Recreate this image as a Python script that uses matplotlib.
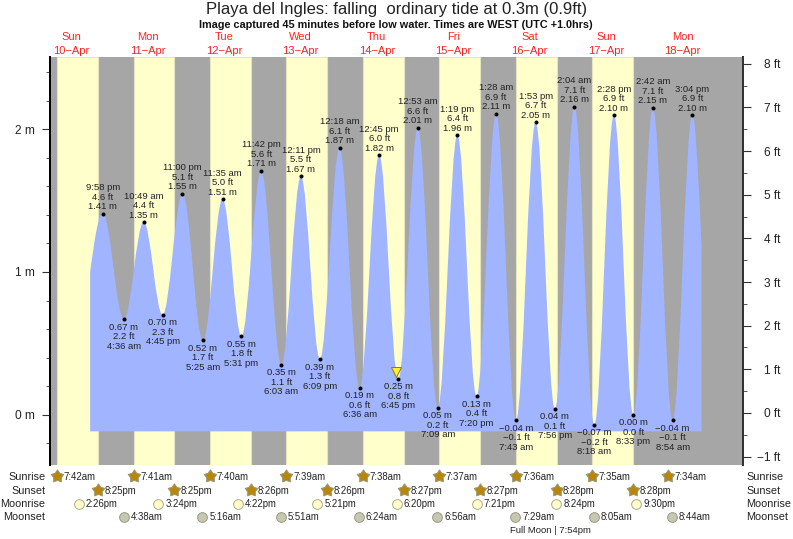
import matplotlib
matplotlib.use("Agg")
import matplotlib.pyplot as plt
from matplotlib.path import Path
from matplotlib.patches import PathPatch

plt.rcParams["font.family"] = ["Liberation Sans", "DejaVu Sans"]

W, H = 793, 539

# tide turning points
tide_days = [10, 11, 11, 11, 11, 12, 12, 12, 12, 13, 13, 13, 14, 14, 14, 14,
             15, 15, 15, 15, 16, 16, 16, 16, 17, 17, 17, 17, 18, 18, 18]
tide_times = ["9:58 pm", "4:36 am", "10:49 am", "4:45 pm", "11:00 pm", "5:25 am", "11:35 am", "5:31 pm",
              "11:42 pm", "6:03 am", "12:11 pm", "6:09 pm", "12:18 am", "6:36 am", "12:45 pm", "6:45 pm",
              "12:53 am", "7:09 am", "1:19 pm", "7:20 pm", "1:28 am", "7:43 am", "1:53 pm", "7:56 pm",
              "2:04 am", "8:18 am", "2:28 pm", "8:33 pm", "2:42 am", "8:54 am", "3:04 pm"]
tide_m = [1.41, 0.67, 1.35, 0.70, 1.55, 0.52, 1.51, 0.55, 1.71, 0.35, 1.67, 0.39, 1.87, 0.19, 1.82, 0.25,
          2.01, 0.05, 1.96, 0.13, 2.11, -0.04, 2.05, 0.04, 2.16, -0.07, 2.10, 0.00, 2.15, -0.04, 2.10]
tide_ft = [4.6, 2.2, 4.4, 2.3, 5.1, 1.7, 5.0, 1.8, 5.6, 1.1, 5.5, 1.3, 6.1, 0.6, 6.0, 0.8,
           6.6, 0.2, 6.4, 0.4, 6.9, -0.1, 6.7, 0.1, 7.1, -0.2, 6.9, 0.0, 7.1, -0.1, 6.9]

# where the drawn curve starts and stops (hours since 10 Apr 00:00, metres)
curve_start = (18.0, 1.00)
curve_end = (210.0, 1.17)
fill_bottom = -0.117
now_time = (14, "6:00 pm")
now_level = 0.30

sunrise = ["7:42am", "7:41am", "7:40am", "7:39am", "7:38am", "7:37am", "7:36am", "7:35am", "7:34am"]
sunset = ["8:25pm", "8:25pm", "8:26pm", "8:26pm", "8:27pm", "8:27pm", "8:28pm", "8:28pm"]
moonrise = ["2:26pm", "3:24pm", "4:22pm", "5:21pm", "6:20pm", "7:21pm", "8:24pm", "9:30pm"]
moonset = ["4:38am", "5:16am", "5:51am", "6:24am", "6:56am", "7:29am", "8:05am", "8:44am"]
full_moon = (16, "7:54pm")

weekdays = ["Sun", "Mon", "Tue", "Wed", "Thu", "Fri", "Sat", "Sun", "Mon"]
dates = ["10−Apr", "11−Apr", "12−Apr", "13−Apr", "14−Apr", "15−Apr", "16−Apr", "17−Apr", "18−Apr"]


def hours(day, clock):
    # hours since midnight on 10 Apr
    clock = clock.replace(" ", "")
    hh, mm = clock[:-2].split(":")
    hh = int(hh) % 12
    if clock.endswith("pm"):
        hh += 12
    return (day - 10) * 24 + hh + int(mm) / 60


def minus(s):
    return s.replace("-", "−")


fig = plt.figure(figsize=(W / 100, H / 100), dpi=100)
ax = fig.add_axes([50 / W, (H - 465.3) / H, 692.7 / W, 408 / H])
ax.set_xlim(5.4, 222.9)
ax.set_ylim(-0.355, 2.505)
ax.set_facecolor("#a6a6a6")

# daylight bands
for i, (up, down) in enumerate(zip(sunrise, sunset)):
    ax.axvspan(hours(10 + i, up), hours(10 + i, down), color="#ffffcc", lw=0.8, ec="#e4e4c0", zorder=1)

# tide curve, horizontal at each turning point
tx = [hours(d, t) for d, t in zip(tide_days, tide_times)]
dx = tx[0] - curve_start[0]
dy = tide_m[0] - curve_start[1]
verts = [(curve_start[0], fill_bottom), curve_start,
         (curve_start[0] + 0.35 * dx, curve_start[1] + 0.55 * dy), (tx[0] - 0.36 * dx, tide_m[0]), (tx[0], tide_m[0])]
codes = [Path.MOVETO, Path.LINETO, Path.CURVE4, Path.CURVE4, Path.CURVE4]
for i in range(len(tx) - 1):
    dx = tx[i + 1] - tx[i]
    verts += [(tx[i] + 0.364 * dx, tide_m[i]), (tx[i + 1] - 0.364 * dx, tide_m[i + 1]), (tx[i + 1], tide_m[i + 1])]
    codes += [Path.CURVE4] * 3
dx = curve_end[0] - tx[-1]
dy = curve_end[1] - tide_m[-1]
verts += [(tx[-1] + 0.36 * dx, tide_m[-1]), (curve_end[0] - 0.35 * dx, curve_end[1] - 0.55 * dy), curve_end]
codes += [Path.CURVE4] * 3
verts += [(curve_end[0], fill_bottom), (curve_start[0], fill_bottom), (curve_start[0], fill_bottom)]
codes += [Path.LINETO, Path.LINETO, Path.CLOSEPOLY]
ax.add_patch(PathPatch(Path(verts, codes), fc="#a0b4ff", ec="none", zorder=2))

ax.plot(tx, tide_m, ls="none", marker="o", ms=2.9, color="black", mew=0, zorder=4)

# labels above highs and below lows
for i, (x, m, ft, t) in enumerate(zip(tx, tide_m, tide_ft, tide_times)):
    is_high = (i == 0 or m > tide_m[i - 1])
    lines = [f"{m:.2f} m", f"{ft:.1f} ft", t]
    offs = [7, 16.5, 26] if is_high else [-8, -17.5, -27]
    for s, o in zip(lines, offs):
        ax.annotate(minus(s), (x, m), xytext=(0, o), textcoords="offset pixels", ha="center", va="center",
                    fontsize=6.8, color="#222222", zorder=5, annotation_clip=False)

ax.plot([hours(*now_time)], [now_level], ls="none", marker="v", ms=7, mfc="#ffee33", mec="#8a7a20", mew=0.7, zorder=6)

# left axis, metres
ax.set_xticks([])
ax.set_yticks([0, 1, 2])
ax.set_yticklabels(["0 m", "1 m", "2 m"])
ax.set_yticks([-0.2, 0.2, 0.4, 0.6, 0.8, 1.2, 1.4, 1.6, 1.8, 2.2, 2.4], minor=True)
ax.tick_params(axis="y", which="major", length=5.8, width=0.8, color="#333333", labelsize=8.6, labelcolor="#222222", pad=5)
ax.tick_params(axis="y", which="minor", length=2.9, width=0.7, color="#555555")

# right axis, feet
ax2 = ax.twinx()
ax2.set_ylim(-1.2, 8.15)
ax2.set_yticks(range(-1, 9))
ax2.set_yticklabels([minus(f"{v} ft") for v in range(-1, 9)], ha="right")
ax2.set_yticks([v + 0.5 for v in range(-1, 8)], minor=True)
ax2.tick_params(axis="y", which="major", length=5.8, width=0.8, color="#333333", labelsize=8.6, labelcolor="#222222", pad=21.6)
ax2.tick_params(axis="y", which="minor", length=2.9, width=0.7, color="#555555")

for a in (ax, ax2):
    a.spines["top"].set_visible(False)
    a.spines["bottom"].set_visible(False)
    a.spines["left"].set_linewidth(1.4)
    a.spines["left"].set_color("black")
    a.spines["right"].set_linewidth(1.4)
    a.spines["right"].set_color("#333333")

# day headings
trans = ax.get_xaxis_transform()
def fig_y(py):
    return (465.3 - py) / 408


for i, (d, name) in enumerate(zip(weekdays, dates)):
    x = (i * 24) + 12
    ax.text(x, fig_y(37.5), d, transform=trans, ha="center", va="center", fontsize=8, color="#ff2222", clip_on=False)
    ax.text(x, fig_y(50.5), name, transform=trans, ha="center", va="center", fontsize=8, color="#ff2222", clip_on=False)

fig.text(396.5 / W, 1 - 9.5 / H, "Playa del Ingles: falling  ordinary tide at 0.3m (0.9ft)", ha="center", va="center",
         fontsize=12, color="#222222")
fig.text(396 / W, 1 - 25 / H, "Image captured 45 minutes before low water. Times are WEST (UTC +1.0hrs)", ha="center",
         va="center", fontsize=7.85, fontweight="bold", color="#111111")

# sun and moon rows
fat_star = Path.unit_regular_star(5, innerCircle=0.6)
rows = [("Sunrise", sunrise, 10, 476, fat_star, "#b8860b", "#999977", 9.5, 6.5),
        ("Sunset", sunset, 10, 490, fat_star, "#b8860b", "#999977", 9.5, 6.5),
        ("Moonrise", moonrise, 10, 503.5, "o", "#ffffcc", "#aaaa88", 7.0, 7),
        ("Moonset", moonset, 11, 517, "o", "#c8c8b0", "#999988", 7.0, 7)]
for label, times, first_day, py, mk, fc, ec, ms, gap in rows:
    fig.text(45.5 / W, 1 - (py + 0.5) / H, label, ha="right", va="center", fontsize=7.8, color="#222222")
    fig.text(746.5 / W, 1 - (py + 0.5) / H, label, ha="left", va="center", fontsize=7.8, color="#222222")
    for i, t in enumerate(times):
        x = hours(first_day + i, t)
        ax.plot([x], [fig_y(py)], transform=trans, marker=mk, ms=ms, mfc=fc, mec=ec, mew=0.7, clip_on=False, zorder=7)
        ax.annotate(t, (x, fig_y(py)), xycoords=trans, xytext=(gap, -0.5), textcoords="offset pixels", ha="left",
                    va="center", fontsize=6.9, color="#222222", annotation_clip=False)

ax.annotate(f"Full Moon | {full_moon[1]}", (hours(*full_moon), fig_y(530.5)), xycoords=trans, xytext=(-4, 0),
            textcoords="offset pixels", ha="center", va="center", fontsize=6.8, color="#222222", annotation_clip=False)

fig.savefig("out.png", dpi=100)
